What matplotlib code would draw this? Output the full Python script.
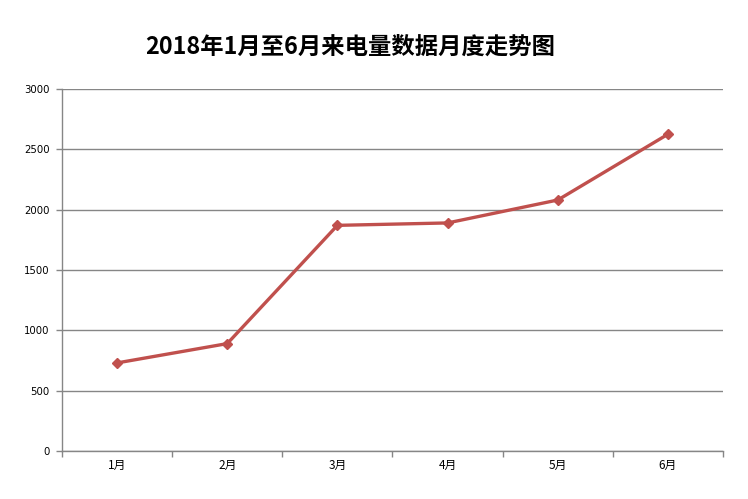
import matplotlib.pyplot as plt

plt.rcParams["font.family"] = ["Noto Sans CJK SC", "DejaVu Sans"]

months = ["1月", "2月", "3月", "4月", "5月", "6月"]
power = [730, 890, 1870, 1890, 2080, 2625]
y_ticks = [0, 500, 1000, 1500, 2000, 2500, 3000]

fig = plt.figure(figsize=(7.48, 4.99), dpi=100)
ax = fig.add_axes([62 / 748, 1 - 451 / 499, 661 / 748, 362 / 499])

x = list(range(len(months)))
ax.plot(x, power, color="#C0504D", linewidth=2.4, marker="D", markersize=5,
        zorder=3)

ax.set_xlim(-0.5, len(months) - 0.5)
ax.set_ylim(0, 3000)
ax.set_yticks(y_ticks)
ax.set_yticklabels([str(v) for v in y_ticks], family="DejaVu Sans", fontsize=7.3)
ax.set_xticks(x)
ax.set_xticklabels(months, fontsize=8.5)
ax.set_xticks([i - 0.5 for i in range(len(months) + 1)], minor=True)
ax.tick_params(axis="x", which="major", length=0, pad=6)
ax.tick_params(axis="x", which="minor", length=4, color="#868686", width=1,
               direction="out")
ax.tick_params(axis="y", length=4, color="#868686", width=1, pad=5)

ax.grid(axis="y", color="#868686", linewidth=1)
ax.set_axisbelow(True)
for side in ["top", "right"]:
    ax.spines[side].set_visible(False)
for side in ["left", "bottom"]:
    ax.spines[side].set_color("#868686")
    ax.spines[side].set_linewidth(1)

fig.text(350 / 748, 1 - 47 / 499, "2018年1月至6月来电量数据月度走势图",
         ha="center", va="center", fontsize=16.8, fontweight="bold")

fig.savefig("out.png", dpi=100)
